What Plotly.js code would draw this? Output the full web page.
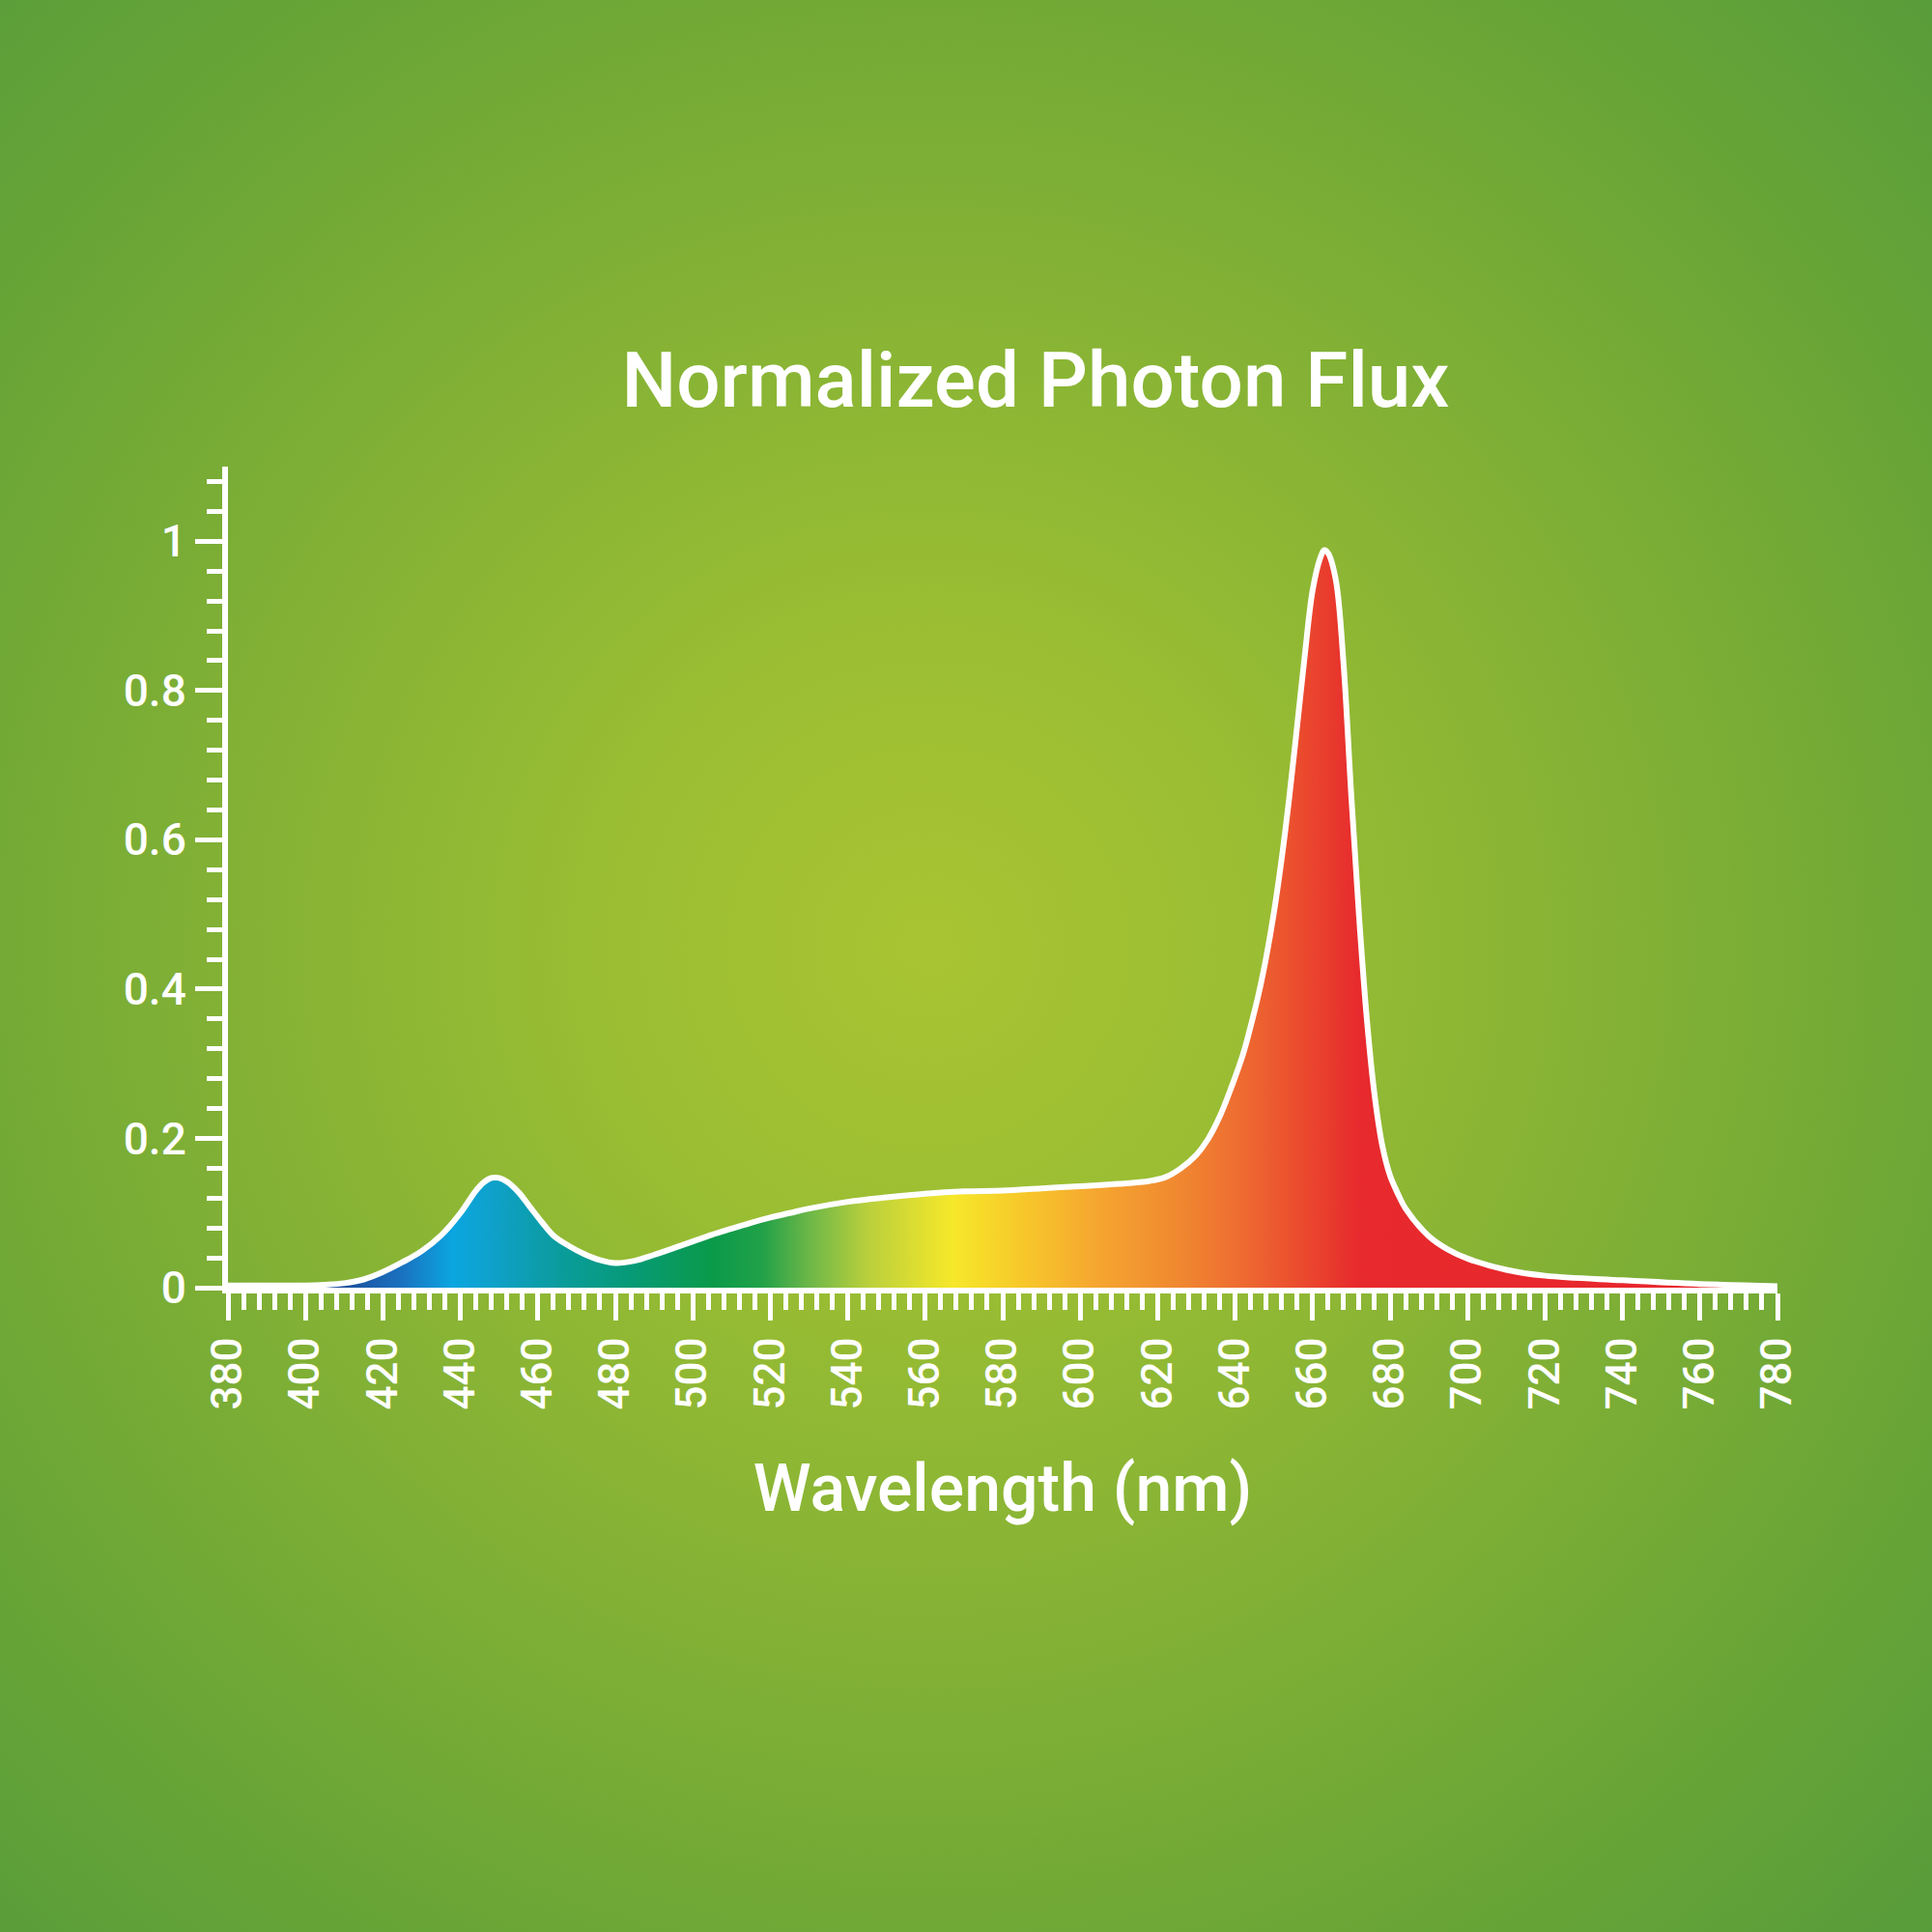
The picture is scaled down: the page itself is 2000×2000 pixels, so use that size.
<!DOCTYPE html>
<html>
<head>
<meta charset="utf-8">
<script src="https://cdn.plot.ly/plotly-3.0.1.min.js"></script>
<style>
  html, body { margin: 0; padding: 0; }
  #chart {
    width: 2000px; height: 2000px;
    background: radial-gradient(circle at 48% 49%, #a9c432 0%, #99bd33 25%, #83b135 50%, #6ba636 75%, #579c3a 100%);
  }
</style>
</head>
<body>
<div id="chart"></div>
<script>
// Wavelength (nm)
const wavelength = [380,390,400,405,410,415,420,425,430,435,440,444,446,448,450,452,455,458,461,464,468,472,476,480,485,490,495,500,505,510,515,520,525,530,540,550,560,570,580,590,600,610,618,622,626,630,633,636,639,642,644,646,648,650,652,654,656,658,660,662,663,664,666,668,670,672,674,676,678,680,682,684,690,695,700,710,720,740,760,780];
// Normalized photon flux
const flux = [0.003,0.003,0.003,0.004,0.006,0.011,0.021,0.034,0.049,0.070,0.100,0.130,0.141,0.147,0.147,0.142,0.128,0.108,0.088,0.070,0.056,0.045,0.037,0.033,0.036,0.044,0.053,0.062,0.071,0.079,0.087,0.094,0.100,0.106,0.115,0.121,0.126,0.129,0.130,0.133,0.136,0.139,0.143,0.148,0.160,0.178,0.199,0.229,0.268,0.312,0.350,0.392,0.442,0.502,0.574,0.658,0.752,0.848,0.934,0.978,0.988,0.984,0.948,0.835,0.658,0.497,0.360,0.258,0.190,0.150,0.126,0.106,0.069,0.051,0.039,0.024,0.016,0.010,0.005,0.002];
const xTicks = [380,400,420,440,460,480,500,520,540,560,580,600,620,640,660,680,700,720,740,760,780];
const yTicks = [0,0.2,0.4,0.6,0.8,1];
const yTickText = ['0','0.2','0.4','0.6','0.8','1'];
// spectral colour stops (wavelength nm, colour)
const spectrumNm = [380,410,425,438,450,465,485,505,518,530,545,567,585,605,625,640,655,672,780];
const spectrumColor = ['#1b4f9c','#1b4f9c','#1a72c0','#0ba6e0','#0fa0c6','#0a9c9e','#079a74','#0a9a4a','#22a148','#6cb748','#b9cf3c','#f6e82a','#f7c82a','#f5a530','#f08930','#ee6e31','#eb4f2e','#e72a2d','#e8262d'];

const FONT = 'Roboto, "Noto Sans", sans-serif';
const lo = spectrumNm[0], hi = spectrumNm[spectrumNm.length-1];
const colorscale = spectrumNm.map((nm, i) => [(nm - lo) / (hi - lo), spectrumColor[i]]);

const trace = {
  x: wavelength, y: flux,
  type: 'scatter', mode: 'lines',
  line: {color: '#ffffff', width: 6, shape: 'spline', smoothing: 1.0},
  fill: 'tozeroy',
  fillgradient: {type: 'horizontal', colorscale: colorscale, start: lo, stop: hi},
  hoverinfo: 'x+y'
};

const layout = {
  width: 2000, height: 2000,
  paper_bgcolor: 'rgba(0,0,0,0)', plot_bgcolor: 'rgba(0,0,0,0)',
  margin: {l: 236, r: 160, t: 483, b: 667},
  showlegend: false,
  font: {family: FONT, color: '#ffffff'},
  title: {
    text: 'Normalized Photon Flux',
    font: {family: FONT, size: 80, weight: 500, color: '#ffffff'},
    x: 0.536, xref: 'container', xanchor: 'center',
    y: 0.8035, yref: 'container', yanchor: 'middle'
  },
  xaxis: {
    range: [380, 780], fixedrange: true,
    showgrid: false, zeroline: false,
    showline: true, linecolor: '#ffffff', linewidth: 6,
    ticks: 'outside', ticklen: 28, tickwidth: 5, tickcolor: '#ffffff',
    tickvals: xTicks, ticktext: xTicks.map(String),
    tickangle: -90,
    tickfont: {family: FONT, size: 44, weight: 500, color: '#ffffff'},
    minor: {dtick: 4, tick0: 380, ticks: 'outside', ticklen: 17, tickwidth: 5, tickcolor: '#ffffff', showgrid: false},
    title: {text: 'Wavelength (nm)', font: {family: FONT, size: 68, weight: 500, color: '#ffffff'}, standoff: 60}
  },
  yaxis: {
    range: [0, 1.1], fixedrange: true,
    showgrid: false, zeroline: false,
    showline: true, linecolor: '#ffffff', linewidth: 6,
    ticks: 'outside', ticklen: 28, tickwidth: 5, tickcolor: '#ffffff',
    tickvals: yTicks, ticktext: yTickText,
    tickfont: {family: FONT, size: 46, weight: 500, color: '#ffffff'},
    minor: {dtick: 0.04, tick0: 0, ticks: 'outside', ticklen: 16, tickwidth: 5, tickcolor: '#ffffff', showgrid: false}
  }
};

Plotly.newPlot('chart', [trace], layout, {displayModeBar: false, staticPlot: true});
</script>
</body>
</html>
